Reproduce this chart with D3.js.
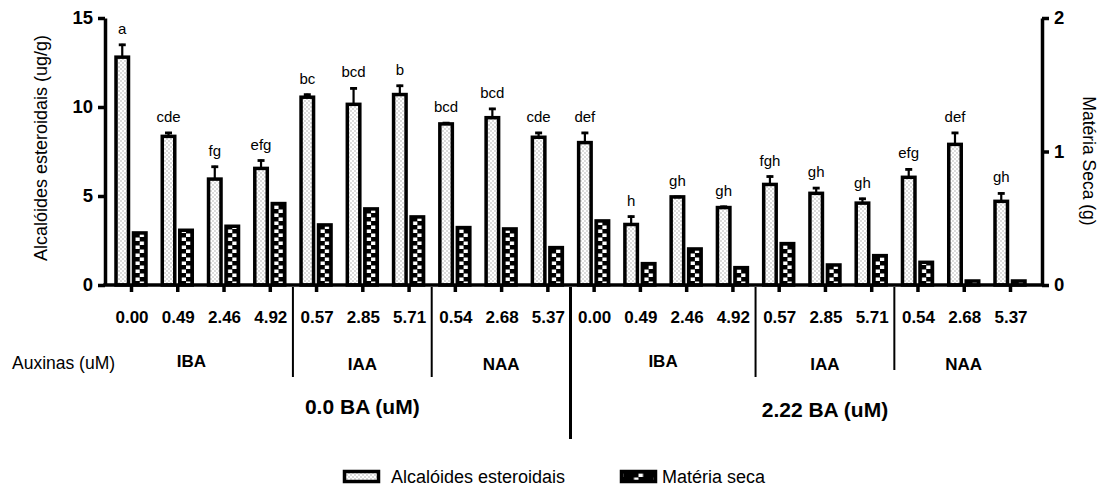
<!DOCTYPE html>
<html><head><meta charset="utf-8">
<script src="https://cdn.jsdelivr.net/npm/d3@7"></script>
<style>
html,body{margin:0;padding:0;background:#fff;}
text{font-family:"Liberation Sans",Arial,sans-serif;fill:#000;}
</style></head>
<body>
<svg id="chart" width="1100" height="492"></svg>
<script>
// ---- data ----
const concLabels = ["0.00","0.49","2.46","4.92","0.57","2.85","5.71","0.54","2.68","5.37",
                    "0.00","0.49","2.46","4.92","0.57","2.85","5.71","0.54","2.68","5.37"];
const alcaloides = [12.8, 8.35, 5.95, 6.55, 10.55, 10.15, 10.7, 9.05, 9.4, 8.3,
                    8.0, 3.4, 4.95, 4.35, 5.65, 5.15, 4.6, 6.05, 7.9, 4.7];
const alcaloidesErr = [0.75, 0.25, 0.75, 0.5, 0.2, 0.95, 0.55, 0.1, 0.55, 0.3,
                       0.6, 0.5, 0.05, 0.1, 0.5, 0.35, 0.3, 0.5, 0.7, 0.5];
const materiaSeca = [0.39, 0.41, 0.44, 0.61, 0.45, 0.57, 0.51, 0.43, 0.42, 0.28,
                     0.48, 0.16, 0.27, 0.13, 0.31, 0.15, 0.22, 0.17, 0.03, 0.03];
const letters = ["a","cde","fg","efg","bc","bcd","b","bcd","bcd","cde",
                 "def","h","gh","gh","fgh","gh","gh","efg","def","gh"];
const auxinGroups = [
  {name:"IBA", first:0, last:3}, {name:"IAA", first:4, last:6}, {name:"NAA", first:7, last:9},
  {name:"IBA", first:10, last:13}, {name:"IAA", first:14, last:16}, {name:"NAA", first:17, last:19}
];
const baGroups = [{name:"0.0 BA (uM)", first:0, last:9, center:5}, {name:"2.22 BA (uM)", first:10, last:19, center:15}];
const leftTicks = [0, 5, 10, 15];
const rightTicks = [0, 1, 2];

// ---- layout ----
const svg = d3.select("#chart");
const idx = d3.range(concLabels.length);
const x = d3.scalePoint().domain(idx).range([131, 1010]);
const yL = d3.scaleLinear().domain([0, 15]).range([285, 18]);
const yR = d3.scaleLinear().domain([0, 2]).range([285, 18]);
const axisLeftX = 105, axisRightX = 1042, baseY = 285;

const defs = svg.append("defs");
const dots = defs.append("pattern").attr("id","dots").attr("patternUnits","userSpaceOnUse")
  .attr("width",4).attr("height",4);
dots.append("rect").attr("width",4).attr("height",4).attr("fill","#fff");
dots.append("circle").attr("cx",1).attr("cy",1).attr("r",0.65).attr("fill","#999");
dots.append("circle").attr("cx",3).attr("cy",3).attr("r",0.65).attr("fill","#999");

function msPattern(id, cx) {
  const p = defs.append("pattern").attr("id", id).attr("patternUnits","userSpaceOnUse")
    .attr("x", cx - 10).attr("y", baseY).attr("width", 20).attr("height", 8);
  p.append("rect").attr("width",20).attr("height",8).attr("fill","#000");
  p.append("rect").attr("x",5.5).attr("y",0.5).attr("width",4.5).attr("height",3.5).attr("fill","#fff");
  p.append("rect").attr("x",10).attr("y",4.5).attr("width",4.5).attr("height",3.5).attr("fill","#fff");
}

const bw = 12.5, gap = 2.5;
// alcaloides bars
svg.append("g").selectAll("rect").data(idx).join("rect")
  .attr("x", i => x(i) - gap - bw).attr("width", bw)
  .attr("y", i => yL(alcaloides[i])).attr("height", i => baseY - yL(alcaloides[i]))
  .attr("fill","url(#dots)").attr("stroke","#000").attr("stroke-width",3.5);
// materia seca bars
idx.forEach(i => msPattern("ms"+i, x(i) + gap + bw/2));
svg.append("g").selectAll("rect").data(idx).join("rect")
  .attr("x", i => x(i) + gap).attr("width", bw)
  .attr("y", i => yR(materiaSeca[i])).attr("height", i => baseY - yR(materiaSeca[i]))
  .attr("fill", i => "url(#ms"+i+")").attr("stroke","#000").attr("stroke-width",3.5);

// error bars
const eg = svg.append("g").attr("stroke","#000");
idx.forEach(i => {
  const cx = x(i) - gap - bw/2;
  const y0 = yL(alcaloides[i]), y1 = yL(alcaloides[i] + alcaloidesErr[i]);
  eg.append("line").attr("x1",cx).attr("x2",cx).attr("y1",y0).attr("y2",y1).attr("stroke-width",2.2);
  eg.append("line").attr("x1",cx-3.5).attr("x2",cx+3.5).attr("y1",y1+1).attr("y2",y1+1).attr("stroke-width",2.8);
});
// significance letters
svg.append("g").selectAll("text").data(idx).join("text")
  .attr("x", i => x(i) - gap - bw/2)
  .attr("y", i => yL(alcaloides[i] + alcaloidesErr[i]) - 10)
  .attr("text-anchor","middle").attr("font-size",15).text(i => letters[i]);

// axes
const gl = svg.append("g").attr("transform",`translate(${axisLeftX},0)`)
  .call(d3.axisLeft(yL).tickValues(leftTicks).tickFormat(d3.format("d")).tickSize(7).tickSizeOuter(0).tickPadding(5));
const gr = svg.append("g").attr("transform",`translate(${axisRightX},0)`)
  .call(d3.axisRight(yR).tickValues(rightTicks).tickFormat(d3.format("d")).tickSize(7).tickSizeOuter(0).tickPadding(5));
[gl, gr].forEach(g => {
  g.select(".domain").attr("stroke-width",3.5);
  g.selectAll(".tick line").attr("stroke-width",3.5);
  g.selectAll(".tick text").attr("font-size",18.5).attr("font-weight","bold")
    .attr("font-family",'"Liberation Sans",Arial,sans-serif');
});
const gb = svg.append("g").attr("transform",`translate(0,${baseY})`)
  .call(d3.axisBottom(x).tickSize(7).tickSizeOuter(0).tickFormat(""));
gb.select(".domain").remove();
gb.selectAll(".tick line").attr("stroke-width",3.5);
svg.append("line").attr("x1",axisLeftX-1.75).attr("x2",axisRightX+1.75).attr("y1",baseY).attr("y2",baseY)
  .attr("stroke","#000").attr("stroke-width",3.5);

// concentration labels
svg.append("g").selectAll("text").data(idx).join("text")
  .attr("x", i => x(i) + 1).attr("y", 323).attr("text-anchor","middle")
  .attr("font-size",17).attr("font-weight","bold").text(i => concLabels[i]);

// separators
const step = x.step();
const sepG = svg.append("g").attr("stroke","#000");
auxinGroups.slice(1).forEach(g => {
  const sx = x(g.first) - step/2;
  const major = g.first === 10;
  sepG.append("line").attr("x1",sx).attr("x2",sx).attr("y1",baseY+2)
    .attr("y2", major ? 439 : (g.first === 17 ? 370 : 377))
    .attr("stroke-width", major ? 3 : 2);
});

// auxin group labels
svg.append("g").selectAll("text").data(auxinGroups).join("text")
  .attr("x", g => (x(g.first) + x(g.last)) / 2 + (g.name === "IBA" && g.first === 0 ? -9 : 0))
  .attr("y", g => g.name === "IBA" ? 367 : 370)
  .attr("text-anchor","middle").attr("font-size",17).attr("font-weight","bold").text(g => g.name);
svg.append("text").attr("x",12).attr("y",369).attr("font-size",17.5).text("Auxinas (uM)");

// BA labels
svg.append("g").selectAll("text").data(baGroups).join("text")
  .attr("x", g => x(g.center)).attr("y", (g, k) => k === 0 ? 414 : 417)
  .attr("text-anchor","middle").attr("font-size",21).attr("font-weight","bold").text(g => g.name);

// axis titles
svg.append("text").attr("transform","translate(47,148) rotate(-90)")
  .attr("text-anchor","middle").attr("font-size",18).text("Alcalóides esteroidais (ug/g)");
svg.append("text").attr("transform","translate(1083,161) rotate(90)")
  .attr("text-anchor","middle").attr("font-size",17.5).text("Matéria Seca (g)");

// legend
const lg = svg.append("g");
msPattern("msLegend", 638.5);
lg.append("rect").attr("x",344.5).attr("y",471.5).attr("width",34).attr("height",10)
  .attr("fill","url(#dots)").attr("stroke","#000").attr("stroke-width",3.5);
lg.append("text").attr("x",391).attr("y",483).attr("font-size",18).text("Alcalóides esteroidais");
lg.append("rect").attr("x",621.5).attr("y",471.5).attr("width",34).attr("height",10)
  .attr("fill","url(#msLegend)").attr("stroke","#000").attr("stroke-width",3.5);
lg.append("text").attr("x",662).attr("y",483).attr("font-size",18).text("Matéria seca");
</script>
</body></html>
